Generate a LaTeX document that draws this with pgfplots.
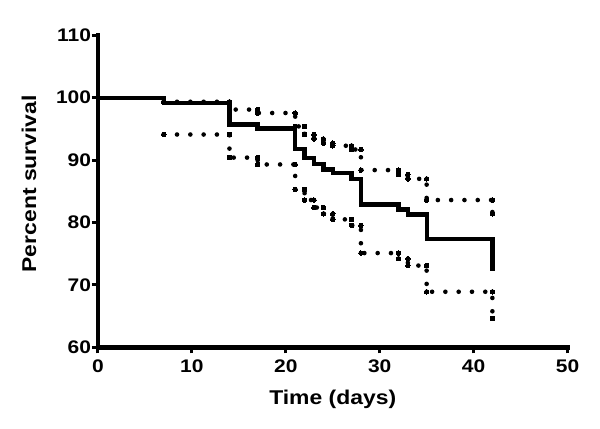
\documentclass[border=0pt]{standalone}
\usepackage{pgfplots}
\pgfplotsset{compat=1.18}
\usepackage{fontspec}
\setmainfont{Liberation Sans}[FakeStretch=1.15]
\begin{document}
\begin{tikzpicture}
\useasboundingbox (-98bp,-81.7bp) rectangle (502bp,347.3bp);
\begin{axis}[
  at={(0,0)}, anchor=origin,
  scale only axis,
  width=469.5bp, height=312bp,
  xmin=0, xmax=50, ymin=60, ymax=110,
  xtick={0,10,20,30,40,50},
  ytick={60,70,80,90,100,110},
  axis lines*=left,
  axis line style={line width=4.5bp, black, line cap=rect},
  tick style={line width=3bp, black},
  tick align=outside,
  major tick length=6bp,
  minor tick num=0,
  clip=false,
  /pgf/number format/assume math mode=true,
  tick label style={font=\bfseries\fontsize{18.3}{21}\selectfont},
  yticklabel style={inner sep=0.8bp},
  xticklabel style={inner sep=0pt, yshift=-6.5bp},
  xlabel={Time (days)},
  ylabel={Percent survival},
  every axis x label/.style={at={(axis description cs:0.5,-0.183)}, anchor=base, font=\bfseries\fontsize{20}{24}\selectfont},
  every axis y label/.style={at={(axis description cs:-0.132,0.524)}, anchor=base, rotate=90, font=\bfseries\fontsize{20}{24}\selectfont},
  ci/.style={sharp plot, black, line width=4.6bp, line cap=round, dash pattern=on 0bp off 13.3bp,
    mark=*, mark size=2.3bp, mark options={solid, line width=0pt, fill=black}},
]
\addplot[const plot, black, line width=4.3bp, line join=miter] coordinates {
(0,100) (7,99.2) (14,95.7) (17,95.05) (21,91.8) (22,90.35) (23,89.4) (24,88.5)
(25,87.9) (27,87.0) (28,82.9) (32,82.1) (33,81.3) (35,77.3) (42,77.3) (42,72.3)
};
\addplot[ci] coordinates {
(7,99.35) (14,99.35) (14,98.1) (17,98.1) (17,97.55) (21,97.55) (21,95.4) (22,95.4)
(22,94.1) (23,94.1) (23,93.4) (24,93.4) (24,92.7) (25,92.7) (25,92.3) (27,92.3)
(27,91.7) (28,91.7) (28,88.4) (32,88.4) (32,87.7) (33,87.7) (33,87.0) (35,87.0)
(35,83.6) (42,83.6) (42,81.4)
};
\addplot[ci] coordinates {
(7,94.1) (14,94.1) (14,90.4) (17,90.4) (17,89.3) (21,89.3) (21,85.3) (22,85.3)
(22,83.6) (23,83.6) (23,82.4) (24,82.4) (24,81.4) (25,81.4) (25,80.5) (27,80.5)
(27,79.55) (28,79.55) (28,75.1) (32,75.1) (32,74.2) (33,74.2) (33,73.1) (35,73.1)
(35,68.9) (42,68.9) (42,64.6)
};
\end{axis}
\end{tikzpicture}
\end{document}
